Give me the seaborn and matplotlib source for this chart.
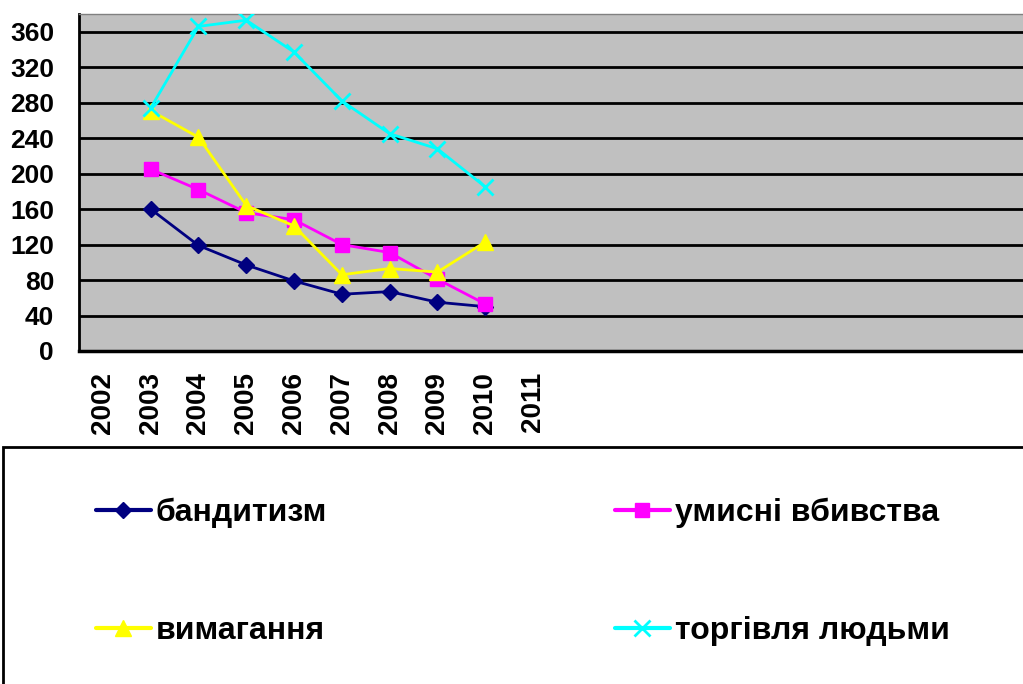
import pandas as pd
import matplotlib.pyplot as plt
import seaborn as sns
from matplotlib.patches import Rectangle
from matplotlib.ticker import FixedLocator, NullFormatter

# category axis: 2002..2011 labelled, the rest of the categories are empty
categories = ['2002', '2003', '2004', '2005', '2006', '2007', '2008', '2009', '2010', '2011'] + [''] * 10
years = ['2003', '2004', '2005', '2006', '2007', '2008', '2009', '2010']

banditism = [160, 119, 97, 79, 64, 67, 55, 50]
murders = [205, 182, 156, 148, 120, 111, 81, 53]
extortion = [271, 241, 164, 141, 86, 93, 89, 123]
trafficking = [274, 366, 373, 337, 282, 245, 228, 185]

series_names = ['бандитизм', 'умисні вбивства', 'вимагання', 'торгівля людьми']
series_values = [banditism, murders, extortion, trafficking]
colors = ['#000080', '#FF00FF', '#FFFF00', '#00FFFF']
markers = ['D', 's', '^', 'x']
msizes = [8, 10, 11, 11]

sns.set_style('white')
plt.rcParams['font.family'] = ['Liberation Sans', 'DejaVu Sans']
plt.rcParams['font.weight'] = 'bold'
plt.rcParams['text.color'] = 'black'
plt.rcParams['xtick.color'] = 'black'
plt.rcParams['ytick.color'] = 'black'

rows = []
for name, vals in zip(series_names, series_values):
    for y, v in zip(years, vals):
        rows.append({'series': name, 'pos': categories.index(y), 'value': v})
df = pd.DataFrame(rows)

fig = plt.figure(figsize=(10.23, 6.84), dpi=100)
ax = fig.add_axes([79 / 1023, 1 - 351 / 684, 1 - 79 / 1023, (351 - 14) / 684])
ax.set_facecolor('#C0C0C0')

for name, c, m, ms in zip(series_names, colors, markers, msizes):
    sub = df[df['series'] == name]
    sns.lineplot(data=sub, x='pos', y='value', ax=ax, color=c, marker=m,
                 markersize=ms, markeredgecolor=c, markeredgewidth=2 if m == 'x' else 1,
                 linewidth=2, label=name, legend=False, zorder=3)

ax.set_ylim(0, 380)
ax.set_yticks(range(0, 361, 40))
ax.set_xlim(-0.5, 19.25)
ax.yaxis.grid(True, color='black', linewidth=2)
ax.set_axisbelow(True)

# tick marks at category boundaries, labels in category centres
ax.xaxis.set_major_locator(FixedLocator([i - 0.5 for i in range(len(categories) + 1)]))
ax.xaxis.set_major_formatter(NullFormatter())
ax.xaxis.set_minor_locator(FixedLocator(range(len(categories))))
ax.set_xticklabels(categories, minor=True, rotation=90, fontsize=20, fontweight='bold', color='black')
ax.tick_params(axis='x', which='major', length=8, width=2, direction='out', color='black')
ax.tick_params(axis='x', which='minor', length=0, pad=15)
ax.tick_params(axis='y', length=8, width=2, direction='out', color='black', pad=10,
               labelsize=19, labelcolor='black')
for t in ax.get_yticklabels():
    t.set_fontweight('bold')

ax.set_xlabel('')
ax.set_ylabel('')
ax.spines['left'].set_color('black')
ax.spines['left'].set_linewidth(2)
ax.spines['bottom'].set_color('black')
ax.spines['bottom'].set_linewidth(2.5)
ax.spines['top'].set_color('#808080')
ax.spines['top'].set_linewidth(1)
ax.spines['right'].set_visible(False)

# legend box
fig.patches.append(Rectangle((3 / 1023, -0.05), 1.0, 1 - 447 / 684 + 0.05,
                             transform=fig.transFigure, fill=False,
                             edgecolor='black', linewidth=2))
handles, labels = ax.get_legend_handles_labels()
order = [0, 2, 1, 3]
leg = fig.legend([handles[i] for i in order], [labels[i] for i in order],
                 loc='upper left', bbox_to_anchor=(67 / 1023, 1 - 469 / 684),
                 ncol=2, frameon=False, handlelength=1.72,
                 handletextpad=0.16, columnspacing=9.0, labelspacing=2.75,
                 prop={'weight': 'bold', 'size': 23})
for h in leg.legend_handles:
    h.set_linewidth(3)
for t in leg.get_texts():
    t.set_color('black')

fig.savefig('out.png', dpi=100)
